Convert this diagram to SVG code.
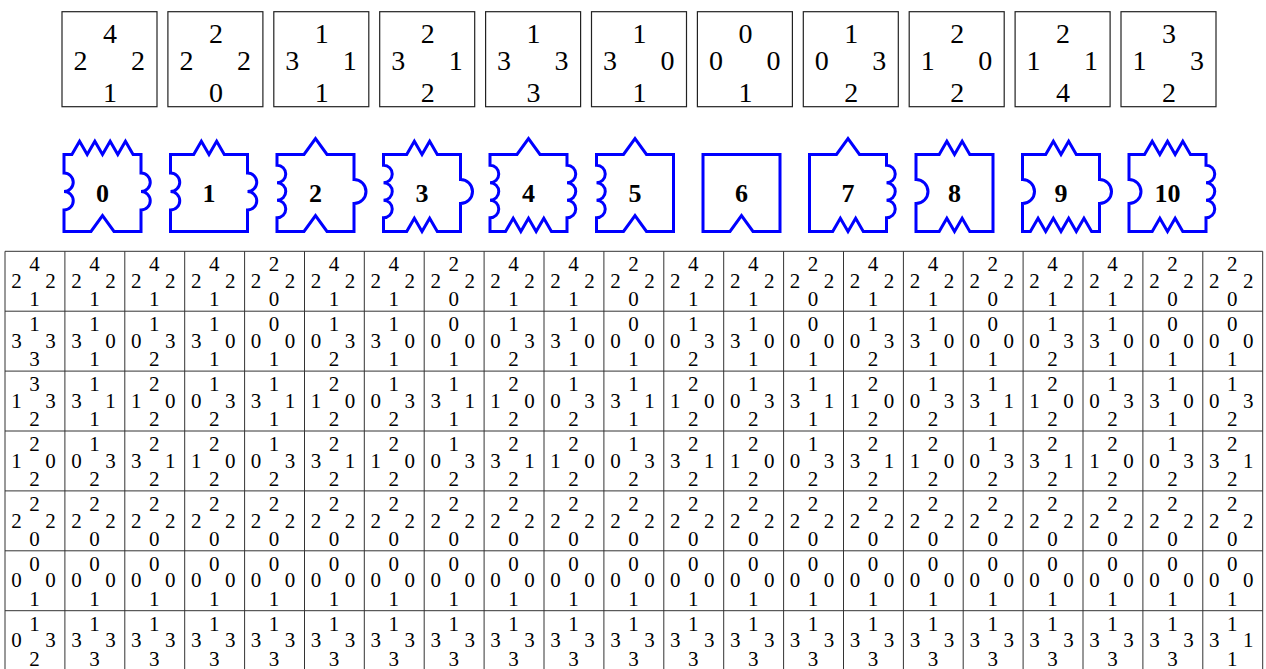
<svg xmlns="http://www.w3.org/2000/svg" width="1266" height="669" viewBox="0 0 1266 669">
<style>
.tile rect{fill:#fff;stroke:#222;stroke-width:1.2}
.tile text{font-family:"Liberation Serif","Times New Roman",serif;font-size:28px;text-anchor:middle;fill:#000}
.piece path{fill:none;stroke:#0000ff;stroke-width:3;stroke-linejoin:miter}
.piece text{font-family:"Liberation Serif","Times New Roman",serif;font-weight:bold;font-size:26px;text-anchor:middle;fill:#000}
.grid path{fill:none;stroke:#333;stroke-width:1}
.cells text{font-family:"Liberation Serif","Times New Roman",serif;font-size:21px;text-anchor:middle;fill:#000}
</style>
<rect width="1266" height="669" fill="#fff"/>
<g id="tiles">
<g id="tile0" class="tile" transform="translate(62 11.7)"><rect width="95" height="95"/><text x="48" y="31.6">4</text><text x="18.5" y="58.3">2</text><text x="76" y="58.3">2</text><text x="48" y="90">1</text></g>
<g id="tile1" class="tile" transform="translate(167.9 11.7)"><rect width="95" height="95"/><text x="48" y="31.6">2</text><text x="18.5" y="58.3">2</text><text x="76" y="58.3">2</text><text x="48" y="90">0</text></g>
<g id="tile2" class="tile" transform="translate(273.8 11.7)"><rect width="95" height="95"/><text x="48" y="31.6">1</text><text x="18.5" y="58.3">3</text><text x="76" y="58.3">1</text><text x="48" y="90">1</text></g>
<g id="tile3" class="tile" transform="translate(379.7 11.7)"><rect width="95" height="95"/><text x="48" y="31.6">2</text><text x="18.5" y="58.3">3</text><text x="76" y="58.3">1</text><text x="48" y="90">2</text></g>
<g id="tile4" class="tile" transform="translate(485.6 11.7)"><rect width="95" height="95"/><text x="48" y="31.6">1</text><text x="18.5" y="58.3">3</text><text x="76" y="58.3">3</text><text x="48" y="90">3</text></g>
<g id="tile5" class="tile" transform="translate(591.5 11.7)"><rect width="95" height="95"/><text x="48" y="31.6">1</text><text x="18.5" y="58.3">3</text><text x="76" y="58.3">0</text><text x="48" y="90">1</text></g>
<g id="tile6" class="tile" transform="translate(697.4 11.7)"><rect width="95" height="95"/><text x="48" y="31.6">0</text><text x="18.5" y="58.3">0</text><text x="76" y="58.3">0</text><text x="48" y="90">1</text></g>
<g id="tile7" class="tile" transform="translate(803.3 11.7)"><rect width="95" height="95"/><text x="48" y="31.6">1</text><text x="18.5" y="58.3">0</text><text x="76" y="58.3">3</text><text x="48" y="90">2</text></g>
<g id="tile8" class="tile" transform="translate(909.2 11.7)"><rect width="95" height="95"/><text x="48" y="31.6">2</text><text x="18.5" y="58.3">1</text><text x="76" y="58.3">0</text><text x="48" y="90">2</text></g>
<g id="tile9" class="tile" transform="translate(1015.1 11.7)"><rect width="95" height="95"/><text x="48" y="31.6">2</text><text x="18.5" y="58.3">1</text><text x="76" y="58.3">1</text><text x="48" y="90">4</text></g>
<g id="tile10" class="tile" transform="translate(1121 11.7)"><rect width="95" height="95"/><text x="48" y="31.6">3</text><text x="18.5" y="58.3">1</text><text x="76" y="58.3">3</text><text x="48" y="90">2</text></g>
</g>
<g id="pieces">
<g id="piece0" class="piece" transform="translate(64 154.5)"><path d="M0 0L7.9 0L15.55 -13.3L23.2 0L30.85 -13.3L38.5 0L46.15 -13.3L53.8 0L61.45 -13.3L69.1 0H77V18.5A9.25 9.25 0 0 1 77 37A9.25 9.25 0 0 1 77 55.5V77H50L38.5 61L27 77H0V55.5A9.25 9.25 0 0 0 0 37A9.25 9.25 0 0 0 0 18.5Z"/><text x="38.5" y="47.5">0</text></g>
<g id="piece1" class="piece" transform="translate(170.5 154.5)"><path d="M0 0L23.2 0L30.85 -13.3L38.5 0L46.15 -13.3L53.8 0H77V18.5A9.25 9.25 0 0 1 77 37A9.25 9.25 0 0 1 77 55.5V77H0V55.5A9.25 9.25 0 0 0 0 37A9.25 9.25 0 0 0 0 18.5Z"/><text x="38.5" y="47.5">1</text></g>
<g id="piece2" class="piece" transform="translate(277 154.5)"><path d="M0 0L27 0L38.5 -16L50 0H77V25A12 12 0 0 1 77 49V77H50L38.5 61L27 77H0V63.25A8.75 8.75 0 0 0 0 45.75A8.75 8.75 0 0 0 0 28.25A8.75 8.75 0 0 0 0 10.75Z"/><text x="38.5" y="47.5">2</text></g>
<g id="piece3" class="piece" transform="translate(383.5 154.5)"><path d="M0 0L23.2 0L30.85 -13.3L38.5 0L46.15 -13.3L53.8 0H77V25A12 12 0 0 1 77 49V77H53.8L46.15 63.7L38.5 77L30.85 63.7L23.2 77H0V63.25A8.75 8.75 0 0 0 0 45.75A8.75 8.75 0 0 0 0 28.25A8.75 8.75 0 0 0 0 10.75Z"/><text x="38.5" y="47.5">3</text></g>
<g id="piece4" class="piece" transform="translate(490 154.5)"><path d="M0 0L27 0L38.5 -16L50 0H77V10.75A8.75 8.75 0 0 1 77 28.25A8.75 8.75 0 0 1 77 45.75A8.75 8.75 0 0 1 77 63.25V77H61.45L53.8 63.7L46.15 77L38.5 63.7L30.85 77L23.2 63.7L15.55 77H0V63.25A8.75 8.75 0 0 0 0 45.75A8.75 8.75 0 0 0 0 28.25A8.75 8.75 0 0 0 0 10.75Z"/><text x="38.5" y="47.5">4</text></g>
<g id="piece5" class="piece" transform="translate(596.5 154.5)"><path d="M0 0L27 0L38.5 -16L50 0H77V77H50L38.5 61L27 77H0V63.25A8.75 8.75 0 0 0 0 45.75A8.75 8.75 0 0 0 0 28.25A8.75 8.75 0 0 0 0 10.75Z"/><text x="38.5" y="47.5">5</text></g>
<g id="piece6" class="piece" transform="translate(703 154.5)"><path d="M0 0H77V77H50L38.5 61L27 77H0Z"/><text x="38.5" y="47.5">6</text></g>
<g id="piece7" class="piece" transform="translate(809.5 154.5)"><path d="M0 0L27 0L38.5 -16L50 0H77V10.75A8.75 8.75 0 0 1 77 28.25A8.75 8.75 0 0 1 77 45.75A8.75 8.75 0 0 1 77 63.25V77H53.8L46.15 63.7L38.5 77L30.85 63.7L23.2 77H0Z"/><text x="38.5" y="47.5">7</text></g>
<g id="piece8" class="piece" transform="translate(916 154.5)"><path d="M0 0L23.2 0L30.85 -13.3L38.5 0L46.15 -13.3L53.8 0H77V77H53.8L46.15 63.7L38.5 77L30.85 63.7L23.2 77H0V49A12 12 0 0 0 0 25Z"/><text x="38.5" y="47.5">8</text></g>
<g id="piece9" class="piece" transform="translate(1022.5 154.5)"><path d="M0 0L23.2 0L30.85 -13.3L38.5 0L46.15 -13.3L53.8 0H77V25A12 12 0 0 1 77 49V77H69.1L61.45 63.7L53.8 77L46.15 63.7L38.5 77L30.85 63.7L23.2 77L15.55 63.7L7.9 77H0V49A12 12 0 0 0 0 25Z"/><text x="38.5" y="47.5">9</text></g>
<g id="piece10" class="piece" transform="translate(1129 154.5)"><path d="M0 0L15.55 0L23.2 -13.3L30.85 0L38.5 -13.3L46.15 0L53.8 -13.3L61.45 0H77V10.75A8.75 8.75 0 0 1 77 28.25A8.75 8.75 0 0 1 77 45.75A8.75 8.75 0 0 1 77 63.25V77H53.8L46.15 63.7L38.5 77L30.85 63.7L23.2 77H0V49A12 12 0 0 0 0 25Z"/><text x="38.5" y="47.5">10</text></g>
</g>
<g id="grid" class="grid">
<path d="M5 251.3V671M64.9 251.3V671M124.8 251.3V671M184.7 251.3V671M244.6 251.3V671M304.5 251.3V671M364.3 251.3V671M424.2 251.3V671M484.1 251.3V671M544 251.3V671M603.9 251.3V671M663.8 251.3V671M723.7 251.3V671M783.6 251.3V671M843.5 251.3V671M903.4 251.3V671M963.2 251.3V671M1023.1 251.3V671M1083 251.3V671M1142.9 251.3V671M1202.8 251.3V671M1262.7 251.3V671M5 251.3H1262.7M5 311.2H1262.7M5 371.1H1262.7M5 431H1262.7M5 490.9H1262.7M5 550.8H1262.7M5 610.7H1262.7"/>
</g>
<g id="cells" class="cells">
<g id="r0c0" transform="translate(5 251.3)"><text x="29.5" y="20">4</text><text x="11.5" y="36.7">2</text><text x="45.5" y="36.7">2</text><text x="29.5" y="55">1</text></g>
<g id="r0c1" transform="translate(64.9 251.3)"><text x="29.5" y="20">4</text><text x="11.5" y="36.7">2</text><text x="45.5" y="36.7">2</text><text x="29.5" y="55">1</text></g>
<g id="r0c2" transform="translate(124.8 251.3)"><text x="29.5" y="20">4</text><text x="11.5" y="36.7">2</text><text x="45.5" y="36.7">2</text><text x="29.5" y="55">1</text></g>
<g id="r0c3" transform="translate(184.7 251.3)"><text x="29.5" y="20">4</text><text x="11.5" y="36.7">2</text><text x="45.5" y="36.7">2</text><text x="29.5" y="55">1</text></g>
<g id="r0c4" transform="translate(244.6 251.3)"><text x="29.5" y="20">2</text><text x="11.5" y="36.7">2</text><text x="45.5" y="36.7">2</text><text x="29.5" y="55">0</text></g>
<g id="r0c5" transform="translate(304.5 251.3)"><text x="29.5" y="20">4</text><text x="11.5" y="36.7">2</text><text x="45.5" y="36.7">2</text><text x="29.5" y="55">1</text></g>
<g id="r0c6" transform="translate(364.3 251.3)"><text x="29.5" y="20">4</text><text x="11.5" y="36.7">2</text><text x="45.5" y="36.7">2</text><text x="29.5" y="55">1</text></g>
<g id="r0c7" transform="translate(424.2 251.3)"><text x="29.5" y="20">2</text><text x="11.5" y="36.7">2</text><text x="45.5" y="36.7">2</text><text x="29.5" y="55">0</text></g>
<g id="r0c8" transform="translate(484.1 251.3)"><text x="29.5" y="20">4</text><text x="11.5" y="36.7">2</text><text x="45.5" y="36.7">2</text><text x="29.5" y="55">1</text></g>
<g id="r0c9" transform="translate(544 251.3)"><text x="29.5" y="20">4</text><text x="11.5" y="36.7">2</text><text x="45.5" y="36.7">2</text><text x="29.5" y="55">1</text></g>
<g id="r0c10" transform="translate(603.9 251.3)"><text x="29.5" y="20">2</text><text x="11.5" y="36.7">2</text><text x="45.5" y="36.7">2</text><text x="29.5" y="55">0</text></g>
<g id="r0c11" transform="translate(663.8 251.3)"><text x="29.5" y="20">4</text><text x="11.5" y="36.7">2</text><text x="45.5" y="36.7">2</text><text x="29.5" y="55">1</text></g>
<g id="r0c12" transform="translate(723.7 251.3)"><text x="29.5" y="20">4</text><text x="11.5" y="36.7">2</text><text x="45.5" y="36.7">2</text><text x="29.5" y="55">1</text></g>
<g id="r0c13" transform="translate(783.6 251.3)"><text x="29.5" y="20">2</text><text x="11.5" y="36.7">2</text><text x="45.5" y="36.7">2</text><text x="29.5" y="55">0</text></g>
<g id="r0c14" transform="translate(843.5 251.3)"><text x="29.5" y="20">4</text><text x="11.5" y="36.7">2</text><text x="45.5" y="36.7">2</text><text x="29.5" y="55">1</text></g>
<g id="r0c15" transform="translate(903.4 251.3)"><text x="29.5" y="20">4</text><text x="11.5" y="36.7">2</text><text x="45.5" y="36.7">2</text><text x="29.5" y="55">1</text></g>
<g id="r0c16" transform="translate(963.2 251.3)"><text x="29.5" y="20">2</text><text x="11.5" y="36.7">2</text><text x="45.5" y="36.7">2</text><text x="29.5" y="55">0</text></g>
<g id="r0c17" transform="translate(1023.1 251.3)"><text x="29.5" y="20">4</text><text x="11.5" y="36.7">2</text><text x="45.5" y="36.7">2</text><text x="29.5" y="55">1</text></g>
<g id="r0c18" transform="translate(1083 251.3)"><text x="29.5" y="20">4</text><text x="11.5" y="36.7">2</text><text x="45.5" y="36.7">2</text><text x="29.5" y="55">1</text></g>
<g id="r0c19" transform="translate(1142.9 251.3)"><text x="29.5" y="20">2</text><text x="11.5" y="36.7">2</text><text x="45.5" y="36.7">2</text><text x="29.5" y="55">0</text></g>
<g id="r0c20" transform="translate(1202.8 251.3)"><text x="29.5" y="20">2</text><text x="11.5" y="36.7">2</text><text x="45.5" y="36.7">2</text><text x="29.5" y="55">0</text></g>
<g id="r1c0" transform="translate(5 311.2)"><text x="29.5" y="20">1</text><text x="11.5" y="36.7">3</text><text x="45.5" y="36.7">3</text><text x="29.5" y="55">3</text></g>
<g id="r1c1" transform="translate(64.9 311.2)"><text x="29.5" y="20">1</text><text x="11.5" y="36.7">3</text><text x="45.5" y="36.7">0</text><text x="29.5" y="55">1</text></g>
<g id="r1c2" transform="translate(124.8 311.2)"><text x="29.5" y="20">1</text><text x="11.5" y="36.7">0</text><text x="45.5" y="36.7">3</text><text x="29.5" y="55">2</text></g>
<g id="r1c3" transform="translate(184.7 311.2)"><text x="29.5" y="20">1</text><text x="11.5" y="36.7">3</text><text x="45.5" y="36.7">0</text><text x="29.5" y="55">1</text></g>
<g id="r1c4" transform="translate(244.6 311.2)"><text x="29.5" y="20">0</text><text x="11.5" y="36.7">0</text><text x="45.5" y="36.7">0</text><text x="29.5" y="55">1</text></g>
<g id="r1c5" transform="translate(304.5 311.2)"><text x="29.5" y="20">1</text><text x="11.5" y="36.7">0</text><text x="45.5" y="36.7">3</text><text x="29.5" y="55">2</text></g>
<g id="r1c6" transform="translate(364.3 311.2)"><text x="29.5" y="20">1</text><text x="11.5" y="36.7">3</text><text x="45.5" y="36.7">0</text><text x="29.5" y="55">1</text></g>
<g id="r1c7" transform="translate(424.2 311.2)"><text x="29.5" y="20">0</text><text x="11.5" y="36.7">0</text><text x="45.5" y="36.7">0</text><text x="29.5" y="55">1</text></g>
<g id="r1c8" transform="translate(484.1 311.2)"><text x="29.5" y="20">1</text><text x="11.5" y="36.7">0</text><text x="45.5" y="36.7">3</text><text x="29.5" y="55">2</text></g>
<g id="r1c9" transform="translate(544 311.2)"><text x="29.5" y="20">1</text><text x="11.5" y="36.7">3</text><text x="45.5" y="36.7">0</text><text x="29.5" y="55">1</text></g>
<g id="r1c10" transform="translate(603.9 311.2)"><text x="29.5" y="20">0</text><text x="11.5" y="36.7">0</text><text x="45.5" y="36.7">0</text><text x="29.5" y="55">1</text></g>
<g id="r1c11" transform="translate(663.8 311.2)"><text x="29.5" y="20">1</text><text x="11.5" y="36.7">0</text><text x="45.5" y="36.7">3</text><text x="29.5" y="55">2</text></g>
<g id="r1c12" transform="translate(723.7 311.2)"><text x="29.5" y="20">1</text><text x="11.5" y="36.7">3</text><text x="45.5" y="36.7">0</text><text x="29.5" y="55">1</text></g>
<g id="r1c13" transform="translate(783.6 311.2)"><text x="29.5" y="20">0</text><text x="11.5" y="36.7">0</text><text x="45.5" y="36.7">0</text><text x="29.5" y="55">1</text></g>
<g id="r1c14" transform="translate(843.5 311.2)"><text x="29.5" y="20">1</text><text x="11.5" y="36.7">0</text><text x="45.5" y="36.7">3</text><text x="29.5" y="55">2</text></g>
<g id="r1c15" transform="translate(903.4 311.2)"><text x="29.5" y="20">1</text><text x="11.5" y="36.7">3</text><text x="45.5" y="36.7">0</text><text x="29.5" y="55">1</text></g>
<g id="r1c16" transform="translate(963.2 311.2)"><text x="29.5" y="20">0</text><text x="11.5" y="36.7">0</text><text x="45.5" y="36.7">0</text><text x="29.5" y="55">1</text></g>
<g id="r1c17" transform="translate(1023.1 311.2)"><text x="29.5" y="20">1</text><text x="11.5" y="36.7">0</text><text x="45.5" y="36.7">3</text><text x="29.5" y="55">2</text></g>
<g id="r1c18" transform="translate(1083 311.2)"><text x="29.5" y="20">1</text><text x="11.5" y="36.7">3</text><text x="45.5" y="36.7">0</text><text x="29.5" y="55">1</text></g>
<g id="r1c19" transform="translate(1142.9 311.2)"><text x="29.5" y="20">0</text><text x="11.5" y="36.7">0</text><text x="45.5" y="36.7">0</text><text x="29.5" y="55">1</text></g>
<g id="r1c20" transform="translate(1202.8 311.2)"><text x="29.5" y="20">0</text><text x="11.5" y="36.7">0</text><text x="45.5" y="36.7">0</text><text x="29.5" y="55">1</text></g>
<g id="r2c0" transform="translate(5 371.1)"><text x="29.5" y="20">3</text><text x="11.5" y="36.7">1</text><text x="45.5" y="36.7">3</text><text x="29.5" y="55">2</text></g>
<g id="r2c1" transform="translate(64.9 371.1)"><text x="29.5" y="20">1</text><text x="11.5" y="36.7">3</text><text x="45.5" y="36.7">1</text><text x="29.5" y="55">1</text></g>
<g id="r2c2" transform="translate(124.8 371.1)"><text x="29.5" y="20">2</text><text x="11.5" y="36.7">1</text><text x="45.5" y="36.7">0</text><text x="29.5" y="55">2</text></g>
<g id="r2c3" transform="translate(184.7 371.1)"><text x="29.5" y="20">1</text><text x="11.5" y="36.7">0</text><text x="45.5" y="36.7">3</text><text x="29.5" y="55">2</text></g>
<g id="r2c4" transform="translate(244.6 371.1)"><text x="29.5" y="20">1</text><text x="11.5" y="36.7">3</text><text x="45.5" y="36.7">1</text><text x="29.5" y="55">1</text></g>
<g id="r2c5" transform="translate(304.5 371.1)"><text x="29.5" y="20">2</text><text x="11.5" y="36.7">1</text><text x="45.5" y="36.7">0</text><text x="29.5" y="55">2</text></g>
<g id="r2c6" transform="translate(364.3 371.1)"><text x="29.5" y="20">1</text><text x="11.5" y="36.7">0</text><text x="45.5" y="36.7">3</text><text x="29.5" y="55">2</text></g>
<g id="r2c7" transform="translate(424.2 371.1)"><text x="29.5" y="20">1</text><text x="11.5" y="36.7">3</text><text x="45.5" y="36.7">1</text><text x="29.5" y="55">1</text></g>
<g id="r2c8" transform="translate(484.1 371.1)"><text x="29.5" y="20">2</text><text x="11.5" y="36.7">1</text><text x="45.5" y="36.7">0</text><text x="29.5" y="55">2</text></g>
<g id="r2c9" transform="translate(544 371.1)"><text x="29.5" y="20">1</text><text x="11.5" y="36.7">0</text><text x="45.5" y="36.7">3</text><text x="29.5" y="55">2</text></g>
<g id="r2c10" transform="translate(603.9 371.1)"><text x="29.5" y="20">1</text><text x="11.5" y="36.7">3</text><text x="45.5" y="36.7">1</text><text x="29.5" y="55">1</text></g>
<g id="r2c11" transform="translate(663.8 371.1)"><text x="29.5" y="20">2</text><text x="11.5" y="36.7">1</text><text x="45.5" y="36.7">0</text><text x="29.5" y="55">2</text></g>
<g id="r2c12" transform="translate(723.7 371.1)"><text x="29.5" y="20">1</text><text x="11.5" y="36.7">0</text><text x="45.5" y="36.7">3</text><text x="29.5" y="55">2</text></g>
<g id="r2c13" transform="translate(783.6 371.1)"><text x="29.5" y="20">1</text><text x="11.5" y="36.7">3</text><text x="45.5" y="36.7">1</text><text x="29.5" y="55">1</text></g>
<g id="r2c14" transform="translate(843.5 371.1)"><text x="29.5" y="20">2</text><text x="11.5" y="36.7">1</text><text x="45.5" y="36.7">0</text><text x="29.5" y="55">2</text></g>
<g id="r2c15" transform="translate(903.4 371.1)"><text x="29.5" y="20">1</text><text x="11.5" y="36.7">0</text><text x="45.5" y="36.7">3</text><text x="29.5" y="55">2</text></g>
<g id="r2c16" transform="translate(963.2 371.1)"><text x="29.5" y="20">1</text><text x="11.5" y="36.7">3</text><text x="45.5" y="36.7">1</text><text x="29.5" y="55">1</text></g>
<g id="r2c17" transform="translate(1023.1 371.1)"><text x="29.5" y="20">2</text><text x="11.5" y="36.7">1</text><text x="45.5" y="36.7">0</text><text x="29.5" y="55">2</text></g>
<g id="r2c18" transform="translate(1083 371.1)"><text x="29.5" y="20">1</text><text x="11.5" y="36.7">0</text><text x="45.5" y="36.7">3</text><text x="29.5" y="55">2</text></g>
<g id="r2c19" transform="translate(1142.9 371.1)"><text x="29.5" y="20">1</text><text x="11.5" y="36.7">3</text><text x="45.5" y="36.7">0</text><text x="29.5" y="55">1</text></g>
<g id="r2c20" transform="translate(1202.8 371.1)"><text x="29.5" y="20">1</text><text x="11.5" y="36.7">0</text><text x="45.5" y="36.7">3</text><text x="29.5" y="55">2</text></g>
<g id="r3c0" transform="translate(5 431)"><text x="29.5" y="20">2</text><text x="11.5" y="36.7">1</text><text x="45.5" y="36.7">0</text><text x="29.5" y="55">2</text></g>
<g id="r3c1" transform="translate(64.9 431)"><text x="29.5" y="20">1</text><text x="11.5" y="36.7">0</text><text x="45.5" y="36.7">3</text><text x="29.5" y="55">2</text></g>
<g id="r3c2" transform="translate(124.8 431)"><text x="29.5" y="20">2</text><text x="11.5" y="36.7">3</text><text x="45.5" y="36.7">1</text><text x="29.5" y="55">2</text></g>
<g id="r3c3" transform="translate(184.7 431)"><text x="29.5" y="20">2</text><text x="11.5" y="36.7">1</text><text x="45.5" y="36.7">0</text><text x="29.5" y="55">2</text></g>
<g id="r3c4" transform="translate(244.6 431)"><text x="29.5" y="20">1</text><text x="11.5" y="36.7">0</text><text x="45.5" y="36.7">3</text><text x="29.5" y="55">2</text></g>
<g id="r3c5" transform="translate(304.5 431)"><text x="29.5" y="20">2</text><text x="11.5" y="36.7">3</text><text x="45.5" y="36.7">1</text><text x="29.5" y="55">2</text></g>
<g id="r3c6" transform="translate(364.3 431)"><text x="29.5" y="20">2</text><text x="11.5" y="36.7">1</text><text x="45.5" y="36.7">0</text><text x="29.5" y="55">2</text></g>
<g id="r3c7" transform="translate(424.2 431)"><text x="29.5" y="20">1</text><text x="11.5" y="36.7">0</text><text x="45.5" y="36.7">3</text><text x="29.5" y="55">2</text></g>
<g id="r3c8" transform="translate(484.1 431)"><text x="29.5" y="20">2</text><text x="11.5" y="36.7">3</text><text x="45.5" y="36.7">1</text><text x="29.5" y="55">2</text></g>
<g id="r3c9" transform="translate(544 431)"><text x="29.5" y="20">2</text><text x="11.5" y="36.7">1</text><text x="45.5" y="36.7">0</text><text x="29.5" y="55">2</text></g>
<g id="r3c10" transform="translate(603.9 431)"><text x="29.5" y="20">1</text><text x="11.5" y="36.7">0</text><text x="45.5" y="36.7">3</text><text x="29.5" y="55">2</text></g>
<g id="r3c11" transform="translate(663.8 431)"><text x="29.5" y="20">2</text><text x="11.5" y="36.7">3</text><text x="45.5" y="36.7">1</text><text x="29.5" y="55">2</text></g>
<g id="r3c12" transform="translate(723.7 431)"><text x="29.5" y="20">2</text><text x="11.5" y="36.7">1</text><text x="45.5" y="36.7">0</text><text x="29.5" y="55">2</text></g>
<g id="r3c13" transform="translate(783.6 431)"><text x="29.5" y="20">1</text><text x="11.5" y="36.7">0</text><text x="45.5" y="36.7">3</text><text x="29.5" y="55">2</text></g>
<g id="r3c14" transform="translate(843.5 431)"><text x="29.5" y="20">2</text><text x="11.5" y="36.7">3</text><text x="45.5" y="36.7">1</text><text x="29.5" y="55">2</text></g>
<g id="r3c15" transform="translate(903.4 431)"><text x="29.5" y="20">2</text><text x="11.5" y="36.7">1</text><text x="45.5" y="36.7">0</text><text x="29.5" y="55">2</text></g>
<g id="r3c16" transform="translate(963.2 431)"><text x="29.5" y="20">1</text><text x="11.5" y="36.7">0</text><text x="45.5" y="36.7">3</text><text x="29.5" y="55">2</text></g>
<g id="r3c17" transform="translate(1023.1 431)"><text x="29.5" y="20">2</text><text x="11.5" y="36.7">3</text><text x="45.5" y="36.7">1</text><text x="29.5" y="55">2</text></g>
<g id="r3c18" transform="translate(1083 431)"><text x="29.5" y="20">2</text><text x="11.5" y="36.7">1</text><text x="45.5" y="36.7">0</text><text x="29.5" y="55">2</text></g>
<g id="r3c19" transform="translate(1142.9 431)"><text x="29.5" y="20">1</text><text x="11.5" y="36.7">0</text><text x="45.5" y="36.7">3</text><text x="29.5" y="55">2</text></g>
<g id="r3c20" transform="translate(1202.8 431)"><text x="29.5" y="20">2</text><text x="11.5" y="36.7">3</text><text x="45.5" y="36.7">1</text><text x="29.5" y="55">2</text></g>
<g id="r4c0" transform="translate(5 490.9)"><text x="29.5" y="20">2</text><text x="11.5" y="36.7">2</text><text x="45.5" y="36.7">2</text><text x="29.5" y="55">0</text></g>
<g id="r4c1" transform="translate(64.9 490.9)"><text x="29.5" y="20">2</text><text x="11.5" y="36.7">2</text><text x="45.5" y="36.7">2</text><text x="29.5" y="55">0</text></g>
<g id="r4c2" transform="translate(124.8 490.9)"><text x="29.5" y="20">2</text><text x="11.5" y="36.7">2</text><text x="45.5" y="36.7">2</text><text x="29.5" y="55">0</text></g>
<g id="r4c3" transform="translate(184.7 490.9)"><text x="29.5" y="20">2</text><text x="11.5" y="36.7">2</text><text x="45.5" y="36.7">2</text><text x="29.5" y="55">0</text></g>
<g id="r4c4" transform="translate(244.6 490.9)"><text x="29.5" y="20">2</text><text x="11.5" y="36.7">2</text><text x="45.5" y="36.7">2</text><text x="29.5" y="55">0</text></g>
<g id="r4c5" transform="translate(304.5 490.9)"><text x="29.5" y="20">2</text><text x="11.5" y="36.7">2</text><text x="45.5" y="36.7">2</text><text x="29.5" y="55">0</text></g>
<g id="r4c6" transform="translate(364.3 490.9)"><text x="29.5" y="20">2</text><text x="11.5" y="36.7">2</text><text x="45.5" y="36.7">2</text><text x="29.5" y="55">0</text></g>
<g id="r4c7" transform="translate(424.2 490.9)"><text x="29.5" y="20">2</text><text x="11.5" y="36.7">2</text><text x="45.5" y="36.7">2</text><text x="29.5" y="55">0</text></g>
<g id="r4c8" transform="translate(484.1 490.9)"><text x="29.5" y="20">2</text><text x="11.5" y="36.7">2</text><text x="45.5" y="36.7">2</text><text x="29.5" y="55">0</text></g>
<g id="r4c9" transform="translate(544 490.9)"><text x="29.5" y="20">2</text><text x="11.5" y="36.7">2</text><text x="45.5" y="36.7">2</text><text x="29.5" y="55">0</text></g>
<g id="r4c10" transform="translate(603.9 490.9)"><text x="29.5" y="20">2</text><text x="11.5" y="36.7">2</text><text x="45.5" y="36.7">2</text><text x="29.5" y="55">0</text></g>
<g id="r4c11" transform="translate(663.8 490.9)"><text x="29.5" y="20">2</text><text x="11.5" y="36.7">2</text><text x="45.5" y="36.7">2</text><text x="29.5" y="55">0</text></g>
<g id="r4c12" transform="translate(723.7 490.9)"><text x="29.5" y="20">2</text><text x="11.5" y="36.7">2</text><text x="45.5" y="36.7">2</text><text x="29.5" y="55">0</text></g>
<g id="r4c13" transform="translate(783.6 490.9)"><text x="29.5" y="20">2</text><text x="11.5" y="36.7">2</text><text x="45.5" y="36.7">2</text><text x="29.5" y="55">0</text></g>
<g id="r4c14" transform="translate(843.5 490.9)"><text x="29.5" y="20">2</text><text x="11.5" y="36.7">2</text><text x="45.5" y="36.7">2</text><text x="29.5" y="55">0</text></g>
<g id="r4c15" transform="translate(903.4 490.9)"><text x="29.5" y="20">2</text><text x="11.5" y="36.7">2</text><text x="45.5" y="36.7">2</text><text x="29.5" y="55">0</text></g>
<g id="r4c16" transform="translate(963.2 490.9)"><text x="29.5" y="20">2</text><text x="11.5" y="36.7">2</text><text x="45.5" y="36.7">2</text><text x="29.5" y="55">0</text></g>
<g id="r4c17" transform="translate(1023.1 490.9)"><text x="29.5" y="20">2</text><text x="11.5" y="36.7">2</text><text x="45.5" y="36.7">2</text><text x="29.5" y="55">0</text></g>
<g id="r4c18" transform="translate(1083 490.9)"><text x="29.5" y="20">2</text><text x="11.5" y="36.7">2</text><text x="45.5" y="36.7">2</text><text x="29.5" y="55">0</text></g>
<g id="r4c19" transform="translate(1142.9 490.9)"><text x="29.5" y="20">2</text><text x="11.5" y="36.7">2</text><text x="45.5" y="36.7">2</text><text x="29.5" y="55">0</text></g>
<g id="r4c20" transform="translate(1202.8 490.9)"><text x="29.5" y="20">2</text><text x="11.5" y="36.7">2</text><text x="45.5" y="36.7">2</text><text x="29.5" y="55">0</text></g>
<g id="r5c0" transform="translate(5 550.8)"><text x="29.5" y="20">0</text><text x="11.5" y="36.7">0</text><text x="45.5" y="36.7">0</text><text x="29.5" y="55">1</text></g>
<g id="r5c1" transform="translate(64.9 550.8)"><text x="29.5" y="20">0</text><text x="11.5" y="36.7">0</text><text x="45.5" y="36.7">0</text><text x="29.5" y="55">1</text></g>
<g id="r5c2" transform="translate(124.8 550.8)"><text x="29.5" y="20">0</text><text x="11.5" y="36.7">0</text><text x="45.5" y="36.7">0</text><text x="29.5" y="55">1</text></g>
<g id="r5c3" transform="translate(184.7 550.8)"><text x="29.5" y="20">0</text><text x="11.5" y="36.7">0</text><text x="45.5" y="36.7">0</text><text x="29.5" y="55">1</text></g>
<g id="r5c4" transform="translate(244.6 550.8)"><text x="29.5" y="20">0</text><text x="11.5" y="36.7">0</text><text x="45.5" y="36.7">0</text><text x="29.5" y="55">1</text></g>
<g id="r5c5" transform="translate(304.5 550.8)"><text x="29.5" y="20">0</text><text x="11.5" y="36.7">0</text><text x="45.5" y="36.7">0</text><text x="29.5" y="55">1</text></g>
<g id="r5c6" transform="translate(364.3 550.8)"><text x="29.5" y="20">0</text><text x="11.5" y="36.7">0</text><text x="45.5" y="36.7">0</text><text x="29.5" y="55">1</text></g>
<g id="r5c7" transform="translate(424.2 550.8)"><text x="29.5" y="20">0</text><text x="11.5" y="36.7">0</text><text x="45.5" y="36.7">0</text><text x="29.5" y="55">1</text></g>
<g id="r5c8" transform="translate(484.1 550.8)"><text x="29.5" y="20">0</text><text x="11.5" y="36.7">0</text><text x="45.5" y="36.7">0</text><text x="29.5" y="55">1</text></g>
<g id="r5c9" transform="translate(544 550.8)"><text x="29.5" y="20">0</text><text x="11.5" y="36.7">0</text><text x="45.5" y="36.7">0</text><text x="29.5" y="55">1</text></g>
<g id="r5c10" transform="translate(603.9 550.8)"><text x="29.5" y="20">0</text><text x="11.5" y="36.7">0</text><text x="45.5" y="36.7">0</text><text x="29.5" y="55">1</text></g>
<g id="r5c11" transform="translate(663.8 550.8)"><text x="29.5" y="20">0</text><text x="11.5" y="36.7">0</text><text x="45.5" y="36.7">0</text><text x="29.5" y="55">1</text></g>
<g id="r5c12" transform="translate(723.7 550.8)"><text x="29.5" y="20">0</text><text x="11.5" y="36.7">0</text><text x="45.5" y="36.7">0</text><text x="29.5" y="55">1</text></g>
<g id="r5c13" transform="translate(783.6 550.8)"><text x="29.5" y="20">0</text><text x="11.5" y="36.7">0</text><text x="45.5" y="36.7">0</text><text x="29.5" y="55">1</text></g>
<g id="r5c14" transform="translate(843.5 550.8)"><text x="29.5" y="20">0</text><text x="11.5" y="36.7">0</text><text x="45.5" y="36.7">0</text><text x="29.5" y="55">1</text></g>
<g id="r5c15" transform="translate(903.4 550.8)"><text x="29.5" y="20">0</text><text x="11.5" y="36.7">0</text><text x="45.5" y="36.7">0</text><text x="29.5" y="55">1</text></g>
<g id="r5c16" transform="translate(963.2 550.8)"><text x="29.5" y="20">0</text><text x="11.5" y="36.7">0</text><text x="45.5" y="36.7">0</text><text x="29.5" y="55">1</text></g>
<g id="r5c17" transform="translate(1023.1 550.8)"><text x="29.5" y="20">0</text><text x="11.5" y="36.7">0</text><text x="45.5" y="36.7">0</text><text x="29.5" y="55">1</text></g>
<g id="r5c18" transform="translate(1083 550.8)"><text x="29.5" y="20">0</text><text x="11.5" y="36.7">0</text><text x="45.5" y="36.7">0</text><text x="29.5" y="55">1</text></g>
<g id="r5c19" transform="translate(1142.9 550.8)"><text x="29.5" y="20">0</text><text x="11.5" y="36.7">0</text><text x="45.5" y="36.7">0</text><text x="29.5" y="55">1</text></g>
<g id="r5c20" transform="translate(1202.8 550.8)"><text x="29.5" y="20">0</text><text x="11.5" y="36.7">0</text><text x="45.5" y="36.7">0</text><text x="29.5" y="55">1</text></g>
<g id="r6c0" transform="translate(5 610.7)"><text x="29.5" y="20">1</text><text x="11.5" y="36.7">0</text><text x="45.5" y="36.7">3</text><text x="29.5" y="55">2</text></g>
<g id="r6c1" transform="translate(64.9 610.7)"><text x="29.5" y="20">1</text><text x="11.5" y="36.7">3</text><text x="45.5" y="36.7">3</text><text x="29.5" y="55">3</text></g>
<g id="r6c2" transform="translate(124.8 610.7)"><text x="29.5" y="20">1</text><text x="11.5" y="36.7">3</text><text x="45.5" y="36.7">3</text><text x="29.5" y="55">3</text></g>
<g id="r6c3" transform="translate(184.7 610.7)"><text x="29.5" y="20">1</text><text x="11.5" y="36.7">3</text><text x="45.5" y="36.7">3</text><text x="29.5" y="55">3</text></g>
<g id="r6c4" transform="translate(244.6 610.7)"><text x="29.5" y="20">1</text><text x="11.5" y="36.7">3</text><text x="45.5" y="36.7">3</text><text x="29.5" y="55">3</text></g>
<g id="r6c5" transform="translate(304.5 610.7)"><text x="29.5" y="20">1</text><text x="11.5" y="36.7">3</text><text x="45.5" y="36.7">3</text><text x="29.5" y="55">3</text></g>
<g id="r6c6" transform="translate(364.3 610.7)"><text x="29.5" y="20">1</text><text x="11.5" y="36.7">3</text><text x="45.5" y="36.7">3</text><text x="29.5" y="55">3</text></g>
<g id="r6c7" transform="translate(424.2 610.7)"><text x="29.5" y="20">1</text><text x="11.5" y="36.7">3</text><text x="45.5" y="36.7">3</text><text x="29.5" y="55">3</text></g>
<g id="r6c8" transform="translate(484.1 610.7)"><text x="29.5" y="20">1</text><text x="11.5" y="36.7">3</text><text x="45.5" y="36.7">3</text><text x="29.5" y="55">3</text></g>
<g id="r6c9" transform="translate(544 610.7)"><text x="29.5" y="20">1</text><text x="11.5" y="36.7">3</text><text x="45.5" y="36.7">3</text><text x="29.5" y="55">3</text></g>
<g id="r6c10" transform="translate(603.9 610.7)"><text x="29.5" y="20">1</text><text x="11.5" y="36.7">3</text><text x="45.5" y="36.7">3</text><text x="29.5" y="55">3</text></g>
<g id="r6c11" transform="translate(663.8 610.7)"><text x="29.5" y="20">1</text><text x="11.5" y="36.7">3</text><text x="45.5" y="36.7">3</text><text x="29.5" y="55">3</text></g>
<g id="r6c12" transform="translate(723.7 610.7)"><text x="29.5" y="20">1</text><text x="11.5" y="36.7">3</text><text x="45.5" y="36.7">3</text><text x="29.5" y="55">3</text></g>
<g id="r6c13" transform="translate(783.6 610.7)"><text x="29.5" y="20">1</text><text x="11.5" y="36.7">3</text><text x="45.5" y="36.7">3</text><text x="29.5" y="55">3</text></g>
<g id="r6c14" transform="translate(843.5 610.7)"><text x="29.5" y="20">1</text><text x="11.5" y="36.7">3</text><text x="45.5" y="36.7">3</text><text x="29.5" y="55">3</text></g>
<g id="r6c15" transform="translate(903.4 610.7)"><text x="29.5" y="20">1</text><text x="11.5" y="36.7">3</text><text x="45.5" y="36.7">3</text><text x="29.5" y="55">3</text></g>
<g id="r6c16" transform="translate(963.2 610.7)"><text x="29.5" y="20">1</text><text x="11.5" y="36.7">3</text><text x="45.5" y="36.7">3</text><text x="29.5" y="55">3</text></g>
<g id="r6c17" transform="translate(1023.1 610.7)"><text x="29.5" y="20">1</text><text x="11.5" y="36.7">3</text><text x="45.5" y="36.7">3</text><text x="29.5" y="55">3</text></g>
<g id="r6c18" transform="translate(1083 610.7)"><text x="29.5" y="20">1</text><text x="11.5" y="36.7">3</text><text x="45.5" y="36.7">3</text><text x="29.5" y="55">3</text></g>
<g id="r6c19" transform="translate(1142.9 610.7)"><text x="29.5" y="20">1</text><text x="11.5" y="36.7">3</text><text x="45.5" y="36.7">3</text><text x="29.5" y="55">3</text></g>
<g id="r6c20" transform="translate(1202.8 610.7)"><text x="29.5" y="20">1</text><text x="11.5" y="36.7">3</text><text x="45.5" y="36.7">1</text><text x="29.5" y="55">1</text></g>
</g>
</svg>
